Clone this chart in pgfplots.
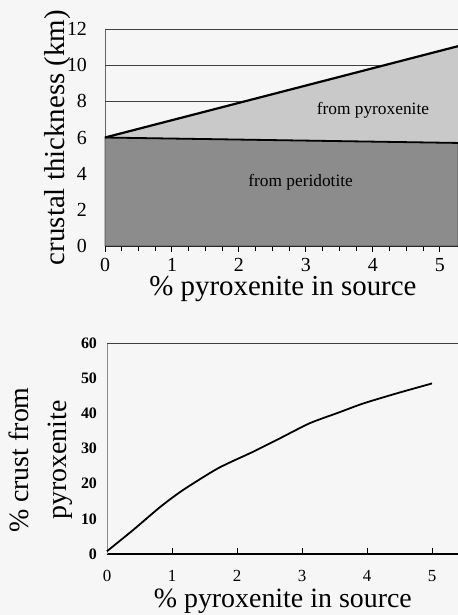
\documentclass[border=0pt]{standalone}
\usepackage{fontspec}
\setmainfont{Liberation Serif}
\usepackage{pgfplots}
\pgfplotsset{compat=1.18}
\definecolor{peridot}{gray}{0.55}
\definecolor{pyrox}{gray}{0.79}
\definecolor{paper}{gray}{0.965}

\begin{document}
\begin{tikzpicture}[x=1bp,y=1bp]
\fill[paper] (0,0) rectangle (229,-307.5);
\useasboundingbox (0,0) rectangle (229,-307.5);

% top: crustal thickness
\begin{axis}[
  at={(52.5bp,-123bp)}, anchor=south west,
  scale only axis, width=176.5bp, height=108.5bp,
  xmin=0, xmax=5.27, ymin=0, ymax=12,
  axis x line=bottom, axis y line=left,
  axis line style={-, black, line width=0.6bp},
  y axis line style={black!60, line width=0.4bp},
  xtick={0,1,2,3,4,5}, minor x tick num=3,
  ytick={0,2,4,6,8,10,12},
  xtick align=outside, ytick align=inside,
  major tick length=3bp, minor tick length=2.5bp,
  x tick style={black, line width=0.5bp},
  y tick style={draw=none},
  extra y ticks={8,10,12}, extra y tick labels={},
  extra y tick style={grid=major, major grid style={black!75, line width=0.5bp}, tick style={draw=none}},
  /pgf/number format/assume math mode=true,
  tick label style={font=\fontsize{10}{12}\selectfont},
  yticklabel style={xshift=-5.5bp},
  xticklabel style={yshift=0.5bp},
  xlabel={\% pyroxenite in source},
  ylabel={crustal thickness (km)},
  label style={font=\fontsize{14.5}{16}\selectfont},
  xlabel style={at={(axis description cs:0.504,-0.197)}, anchor=center},
  ylabel style={at={(axis description cs:-0.135,0.5)}, anchor=center},
  clip=false,
]
\addplot[fill=pyrox, draw=none] coordinates {(0,6) (5.27,11.05) (5.27,5.70)} -- cycle;
\addplot[fill=peridot, draw=black!70, line width=0.3bp] coordinates {(0,6) (5.27,5.70)} \closedcycle;
\addplot[black, line width=1.1bp] coordinates {(0,6) (5.27,11.05)};
\addplot[black, line width=0.9bp] coordinates {(0,6) (5.27,5.70)};
\node[font=\fontsize{8.7}{10}\selectfont] at (axis cs:4.0,7.5) {from pyroxenite};
\node[font=\fontsize{8.7}{10}\selectfont] at (axis cs:2.92,3.5) {from peridotite};
\end{axis}

% bottom: % crust from pyroxenite
\begin{axis}[
  at={(53.5bp,-277bp)}, anchor=south west,
  scale only axis, width=175.5bp, height=105.5bp,
  xmin=0, xmax=5.4, ymin=0, ymax=60,
  axis x line=bottom, axis y line=left,
  axis line style={-, black, line width=0.6bp},
  y axis line style={black!45, line width=0.4bp},
  xtick={0,1,2,3,4,5}, ytick={0,10,20,30,40,50,60},
  xtick align=inside, ytick align=inside,
  major tick length=3bp,
  x tick style={black, line width=0.5bp},
  y tick style={draw=none},
  extra y ticks={60}, extra y tick labels={},
  extra y tick style={grid=major, major grid style={black!75, line width=0.5bp}, tick style={draw=none}},
  /pgf/number format/assume math mode=true,
  xticklabel style={font=\fontsize{8.5}{10}\selectfont, yshift=-4.5bp},
  yticklabel style={font=\bfseries\fontsize{8}{9}\selectfont, xshift=-1.5bp},
  xlabel={\% pyroxenite in source},
  ylabel={\% crust from\\pyroxenite},
  label style={font=\fontsize{14}{19}\selectfont, align=center},
  xlabel style={at={(axis description cs:0.501,-0.222)}, anchor=center},
  ylabel style={at={(axis description cs:-0.188,0.445)}, anchor=center},
  clip=false,
]
\addplot[black, line width=0.9bp, smooth, tension=0.4] coordinates {
  (0,0.8) (0.40,6.8) (0.82,13.4) (1.17,18.2) (1.71,24.4) (2.25,29.1)
  (2.66,32.9) (3.12,37.2) (3.56,40.2) (3.94,42.8) (4.46,45.7) (5.0,48.5)};
\end{axis}
\end{tikzpicture}
\end{document}
